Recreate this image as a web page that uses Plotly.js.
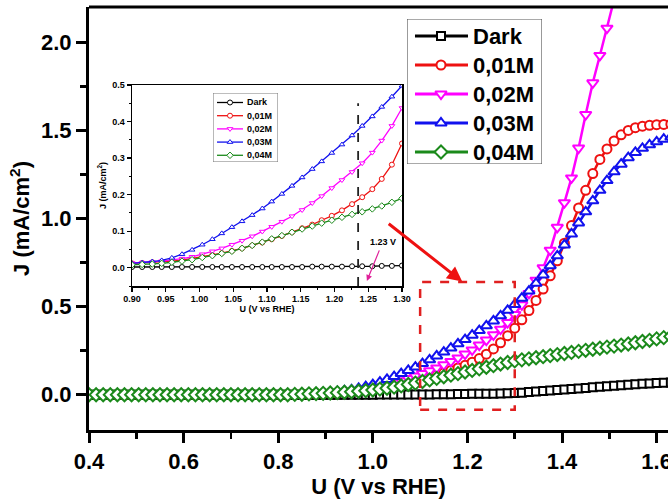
<!DOCTYPE html>
<html><head><meta charset="utf-8">
<script src="https://cdn.plot.ly/plotly-3.0.1.min.js"></script>
<style>html,body{margin:0;padding:0;background:#fff}#chart{width:668px;height:502px}</style>
</head><body><div id="chart"></div>
<script>
// Main plot: potential (V vs RHE)
const U = [
0.400,0.415,0.430,0.445,0.460,0.475,0.490,0.505,0.520,0.535,
0.550,0.565,0.580,0.595,0.610,0.625,0.640,0.655,0.670,0.685,
0.700,0.715,0.730,0.745,0.760,0.775,0.790,0.805,0.820,0.835,
0.850,0.865,0.880,0.895,0.910,0.925,0.940,0.955,0.970,0.985,
1.000,1.015,1.030,1.045,1.060,1.075,1.090,1.105,1.120,1.135,
1.150,1.165,1.180,1.195,1.210,1.225,1.240,1.255,1.270,1.285,
1.300,1.315,1.330,1.345,1.360,1.375,1.390,1.405,1.420,1.435,
1.450,1.465,1.480,1.495,1.510,1.525,1.540,1.555,1.570,1.585,
1.600,1.615,1.630];
const jDark = [
0,0,0,0,0,0,0,0,0,0,
0,0,0,0,0,0,0,0,0,0,
0,0,0,0,0,0,0,0,0,0,
0,0,0,0,0,0,0,0,0,0,
0,0.001,0.001,0.001,0.001,0.002,0.002,0.002,0.002,0.003,
0.003,0.003,0.004,0.004,0.005,0.005,0.006,0.006,0.007,0.008,
0.010,0.012,0.015,0.018,0.021,0.024,0.027,0.030,0.033,0.036,
0.039,0.042,0.045,0.048,0.051,0.054,0.057,0.060,0.062,0.064,
0.066,0.068,0.069];
const j001 = [
0,0,0,0,0,0,0,0,0,0,
0,0,0,0,0,0,0,0,0,0,
0,0,0,0,0,0,0,0,0,0.002,
0.003,0.004,0.006,0.007,0.009,0.011,0.014,0.017,0.021,0.025,
0.030,0.035,0.042,0.050,0.059,0.069,0.079,0.089,0.100,0.112,
0.125,0.138,0.152,0.167,0.185,0.205,0.230,0.260,0.295,0.335,
0.378,0.425,0.478,0.535,0.600,0.675,0.760,0.860,0.960,1.060,
1.160,1.255,1.335,1.395,1.440,1.475,1.500,1.515,1.524,1.529,
1.532,1.534,1.535];
const j002 = [
0,0,0,0,0,0,0,0,0,0,
0,0,0,0,0,0,0,0,0,0,
0,0,0,0,0,0,0,0,0,0.002,
0.003,0.005,0.007,0.009,0.011,0.014,0.017,0.021,0.026,0.032,
0.040,0.048,0.058,0.068,0.080,0.092,0.106,0.120,0.136,0.152,
0.170,0.189,0.209,0.231,0.254,0.282,0.310,0.340,0.372,0.410,
0.455,0.510,0.575,0.650,0.720,0.820,0.950,1.090,1.230,1.400,
1.590,1.770,1.925,2.080,2.240,2.400];
const j003 = [
0,0,0,0,0,0,0,0,0,0,
0,0,0,0,0,0,0,0,0,0,
0,0,0,0,0,0,0,0,0,0.002,
0.003,0.005,0.007,0.010,0.013,0.017,0.022,0.028,0.036,0.046,
0.058,0.072,0.087,0.103,0.120,0.138,0.157,0.177,0.198,0.220,
0.242,0.265,0.289,0.313,0.338,0.364,0.391,0.419,0.448,0.479,
0.512,0.548,0.588,0.632,0.680,0.732,0.788,0.850,0.912,0.975,
1.038,1.100,1.160,1.215,1.265,1.308,1.345,1.375,1.398,1.418,
1.435,1.450,1.462];
const j004 = [
0,0,0,0,0,0,0,0,0,0,
0,0,0,0,0,0,0,0,0,0,
0,0,0,0,0,0,0,0,0,0.002,
0.003,0.005,0.006,0.008,0.010,0.012,0.014,0.017,0.020,0.023,
0.027,0.032,0.037,0.043,0.050,0.058,0.066,0.075,0.084,0.093,
0.102,0.111,0.120,0.129,0.138,0.147,0.156,0.165,0.174,0.183,
0.192,0.198,0.204,0.210,0.216,0.222,0.228,0.234,0.240,0.246,
0.252,0.258,0.264,0.270,0.276,0.282,0.288,0.295,0.302,0.309,
0.317,0.324,0.331];

// Inset (zoom 0.90 - 1.30 V)
const uIn = [0.900,0.915,0.930,0.944,0.959,0.974,0.989,1.004,1.019,1.033,1.048,1.063,1.078,1.093,
             1.107,1.122,1.137,1.152,1.167,1.181,1.196,1.211,1.226,1.241,1.256,1.270,1.285,1.300];
const inDark = [0.002,0.002,0.002,0.002,0.002,0.002,0.002,0.002,0.002,0.002,0.002,0.002,0.002,0.002,
                0.002,0.002,0.002,0.002,0.003,0.003,0.003,0.003,0.004,0.004,0.004,0.005,0.005,0.006];
const in001 = [0.012,0.013,0.015,0.016,0.018,0.021,0.025,0.030,0.035,0.040,0.046,0.053,0.061,0.069,
               0.078,0.087,0.097,0.108,0.118,0.130,0.142,0.157,0.174,0.193,0.215,0.243,0.282,0.340];
const in002 = [0.013,0.014,0.016,0.018,0.021,0.025,0.030,0.037,0.045,0.053,0.063,0.074,0.086,0.099,
               0.112,0.126,0.141,0.158,0.177,0.196,0.218,0.240,0.262,0.286,0.315,0.348,0.388,0.437];
const in003 = [0.012,0.014,0.017,0.020,0.027,0.037,0.049,0.063,0.078,0.094,0.111,0.127,0.144,0.162,
               0.181,0.202,0.224,0.247,0.270,0.291,0.314,0.337,0.362,0.388,0.414,0.440,0.468,0.498];
const in004 = [0.008,0.009,0.010,0.012,0.015,0.018,0.022,0.028,0.033,0.039,0.045,0.053,0.061,0.070,
               0.079,0.088,0.097,0.106,0.114,0.122,0.130,0.138,0.146,0.153,0.161,0.169,0.179,0.190];

const names = ['Dark','0,01M','0,02M','0,03M','0,04M'];
const colors = ['#000000','#ee1111','#ff00ff','#1111ee','#1b8a1b'];
const mainSym = ['square','circle','triangle-down','triangle-up','diamond'];
const mainSize = [8,9,10,10,10];
const inSym = ['circle','circle','triangle-down','triangle-up','diamond'];
const mainY = [jDark,j001,j002,j003,j004];
const inY = [inDark,in001,in002,in003,in004];

const traces = [];
for (let k=0;k<5;k++){
  traces.push({x:U.slice(0,mainY[k].length), y:mainY[k], name:names[k], type:'scatter', mode:'lines+markers',
    xaxis:'x', yaxis:'y', showlegend:false,
    line:{color:colors[k], width:2.5},
    marker:{symbol:mainSym[k], size:mainSize[k], color:'#ffffff', line:{color:colors[k], width:2}}});
}
for (let k=0;k<5;k++){
  traces.push({x:uIn, y:inY[k], name:names[k], type:'scatter', mode:'lines+markers',
    xaxis:'x2', yaxis:'y2', showlegend:false,
    line:{color:colors[k], width:1.3},
    marker:{symbol:inSym[k], size:5, color:'#ffffff', line:{color:colors[k], width:1}}});
}
// Legend keys drawn on two helper subplots (x3/y3 = inset legend, x4/y4 = main legend), pixel-like units
const annotations = [];
for (let k=0;k<5;k++){
  const ry = 9.5 + 13.2*k;
  traces.push({x:[4,17,30], y:[ry,ry,ry], xaxis:'x3', yaxis:'y3', showlegend:false, type:'scatter', mode:'lines+markers',
    line:{color:colors[k], width:1.3},
    marker:{symbol:inSym[k], size:5, color:'#fff', opacity:[0,1,0], line:{color:colors[k], width:1}}});
  annotations.push({xref:'x3', yref:'y3', x:32, y:ry, text:names[k], showarrow:false, xanchor:'left', yanchor:'middle',
    font:{size:9, weight:'bold'}});
  const my = 17 + 29*k;
  traces.push({x:[8,34,61], y:[my,my,my], xaxis:'x4', yaxis:'y4', showlegend:false, type:'scatter', mode:'lines+markers',
    line:{color:colors[k], width:3},
    marker:{symbol:mainSym[k], size:mainSize[k], color:'#fff', opacity:[0,1,0], line:{color:colors[k], width:2}}});
  annotations.push({xref:'x4', yref:'y4', x:64, y:my, text:names[k], showarrow:false, xanchor:'left', yanchor:'middle',
    font:{size:22, weight:'bold'}});
}

const F = 'Liberation Sans, Arial, sans-serif';
const hidden = {showline:false, showgrid:false, zeroline:false, showticklabels:false, ticks:'', fixedrange:true};
annotations.push(
  {xref:'x2', yref:'y2', x:1.272, y:0.07, text:'1.23 V', showarrow:false, font:{size:9, weight:'bold'}},
  {xref:'x2', yref:'y2', x:1.248, y:-0.036, ax:13, ay:-32, text:'', showarrow:true,
    arrowcolor:'#e0209a', arrowwidth:1.2, arrowhead:2, arrowsize:1},
  {xref:'x', yref:'y', x:1.189, y:0.642, ax:-75, ay:-59, text:'', showarrow:true,
    arrowcolor:'#ee1111', arrowwidth:3, arrowhead:2, arrowsize:1}
);
const layout = {
  width:668, height:502,
  margin:{l:89, r:0, t:7, b:72},
  paper_bgcolor:'#fff', plot_bgcolor:'#fff',
  font:{family:F, color:'#000'},
  showlegend:false,
  xaxis:{domain:[0,1], range:[0.4,1.624], tick0:0.4, dtick:0.2, tickformat:'.1f',
    showline:true, linecolor:'#000', linewidth:3, showgrid:false, zeroline:false,
    ticks:'outside', ticklen:10, tickwidth:3, tickcolor:'#000',
    minor:{dtick:0.1, ticks:'outside', ticklen:6, tickwidth:2.5, tickcolor:'#000', showgrid:false},
    tickfont:{size:22, weight:'bold', family:F}, ticklabeloverflow:'allow',
    title:{text:'U (V vs RHE)', font:{size:22, weight:'bold', family:F}, standoff:5}, anchor:'y'},
  yaxis:{domain:[0,1], range:[-0.2,2.2], tick0:0, dtick:0.5, tickformat:'.1f',
    showline:true, linecolor:'#000', linewidth:3, showgrid:false, zeroline:false,
    ticks:'outside', ticklen:10, tickwidth:3, tickcolor:'#000',
    minor:{dtick:0.25, ticks:'outside', ticklen:6, tickwidth:2.5, tickcolor:'#000', showgrid:false},
    tickfont:{size:22, weight:'bold', family:F},
    title:{text:'J (mA/cm<sup>2</sup>)', font:{size:22, weight:'bold', family:F}, standoff:6}, anchor:'x'},
  xaxis2:{domain:[0.0743,0.5406], range:[0.9,1.3], tick0:0.9, dtick:0.05, tickformat:'.2f', anchor:'y2',
    showline:true, mirror:true, linecolor:'#000', linewidth:1.5, showgrid:false, zeroline:false,
    ticks:'outside', ticklen:4, tickwidth:1.2, tickcolor:'#000',
    minor:{dtick:0.025, ticks:'outside', ticklen:2, tickwidth:1, tickcolor:'#000', showgrid:false},
    tickfont:{size:9, weight:'bold', family:F},
    title:{text:'U (V vs RHE)', font:{size:9, weight:'bold', family:F}, standoff:2}},
  yaxis2:{domain:[0.3404,0.8156], range:[-0.05,0.5], tick0:0, dtick:0.1, tickformat:'.1f', anchor:'x2',
    showline:true, mirror:true, linecolor:'#000', linewidth:1.5, showgrid:false, zeroline:false,
    ticks:'outside', ticklen:4, tickwidth:1.2, tickcolor:'#000',
    minor:{dtick:0.05, ticks:'outside', ticklen:2, tickwidth:1, tickcolor:'#000', showgrid:false},
    tickfont:{size:9, weight:'bold', family:F},
    title:{text:'J (mA/cm<sup>2</sup>)', font:{size:9, weight:'bold', family:F}, standoff:4}},
  xaxis3:Object.assign({domain:[0.2142,0.3264], range:[0,65], anchor:'y3'}, hidden),
  yaxis3:Object.assign({domain:[0.6336,0.7967], range:[69,0], anchor:'x3'}, hidden),
  xaxis4:Object.assign({domain:[0.5492,0.7824], range:[0,135], anchor:'y4'}, hidden),
  yaxis4:Object.assign({domain:[0.6288,0.9716], range:[145,0], anchor:'x4'}, hidden),
  shapes:[
    {type:'line', xref:'paper', yref:'paper', x0:0, x1:1, y0:1, y1:1, line:{color:'#000', width:3}},
    {type:'line', xref:'x2', yref:'y2', x0:1.235, x1:1.235, y0:-0.05, y1:0.45, line:{color:'#222', width:1.8, dash:'dash'}},
    {type:'rect', xref:'x', yref:'y', x0:1.1, x1:1.3, y0:-0.085, y1:0.64, line:{color:'#e02020', width:2.5, dash:'dash'}},
    {type:'rect', xref:'x3', yref:'y3', x0:0, x1:65, y0:0, y1:69, line:{color:'#777', width:1}, layer:'below'},
    {type:'rect', xref:'x4', yref:'y4', x0:0, x1:135, y0:0, y1:145, line:{color:'#555', width:1.2}, layer:'below'}
  ],
  annotations:annotations
};
Plotly.newPlot('chart', traces, layout, {displayModeBar:false, staticPlot:true});
</script></body></html>
